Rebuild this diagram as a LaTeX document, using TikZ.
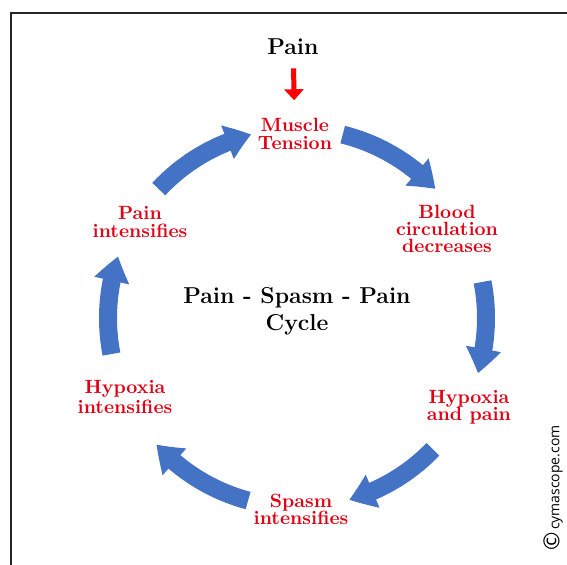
\documentclass[tikz,border=0pt]{standalone}
\usepackage{fontspec}
\newfontfamily\credfont{Open Sans}
\usetikzlibrary{arrows.meta,bending}
\definecolor{cycblue}{RGB}{68,114,196}
\definecolor{cycred}{RGB}{226,0,20}
\begin{document}
\begin{tikzpicture}[x=0.5pt,y=0.5pt,
				cyc arrow/.style = {draw=cycblue, line width=9pt, -{Triangle[width=17pt,length=12.5pt,bend]}},
				step node/.style = {text=cycred, align=center, inner sep=0pt, font=\bfseries\fontsize{9.6}{8.6}\selectfont},
				title node/.style = {align=center, inner sep=0pt, font=\bfseries\fontsize{11.5}{13.5}\selectfont}]
				
				\useasboundingbox (0,0) rectangle (567,565);
				\draw[line width=1pt, black!85] (11,0) -- (11,552) -- (567,552);
				
				\coordinate (c) at (297,247);
				
				\node[title node] (0) at (293,518) {Pain};
				\node[step node] (1) at (295,431) {Muscle\\Tension};
				\node[step node] (2) at (447,336) {Blood\\circulation\\decreases};
				\node[step node] (3) at (469,158) {Hypoxia\\and pain};
				\node[step node] (4) at (301,56) {Spasm\\intensifies};
				\node[step node] (5) at (125,168) {Hypoxia\\intensifies};
				\node[step node] (6) at (140,343) {Pain\\intensifies};
				\node[title node] (7) at (297,254) {Pain - Spasm - Pain\\Cycle};
				\node[rotate=90, inner sep=0pt, font=\credfont\fontsize{7}{8}\selectfont] (8) at (553,77) {{\fontsize{11}{11}\selectfont\textcopyright}\,cymascope.com};
				
				\coordinate (a1) at ([shift={(137:189)}]c);
				\coordinate (a2) at ([shift={(76:189)}]c);
				\coordinate (a3) at ([shift={(11:189)}]c);
				\coordinate (a4) at ([shift={(-44:189)}]c);
				\coordinate (a5) at ([shift={(-105:189)}]c);
				\coordinate (a6) at ([shift={(191:189)}]c);
				
				\draw[cyc arrow] (a1) arc[start angle=137, end angle=104, radius=189];
				\draw[cyc arrow] (a2) arc[start angle=76, end angle=43, radius=189];
				\draw[cyc arrow] (a3) arc[start angle=11, end angle=-17, radius=189];
				\draw[cyc arrow] (a4) arc[start angle=-44, end angle=-74, radius=189];
				\draw[cyc arrow] (a5) arc[start angle=-105, end angle=-138, radius=189];
				\draw[cyc arrow] (a6) arc[start angle=191, end angle=161, radius=189];
				
				\draw[red, line width=2.5pt, -{Triangle[width=9.5pt,length=5.5pt]}, shorten <=6.5pt, shorten >=9pt] (0) -- (1);
				
				\end{tikzpicture}
\end{document}
